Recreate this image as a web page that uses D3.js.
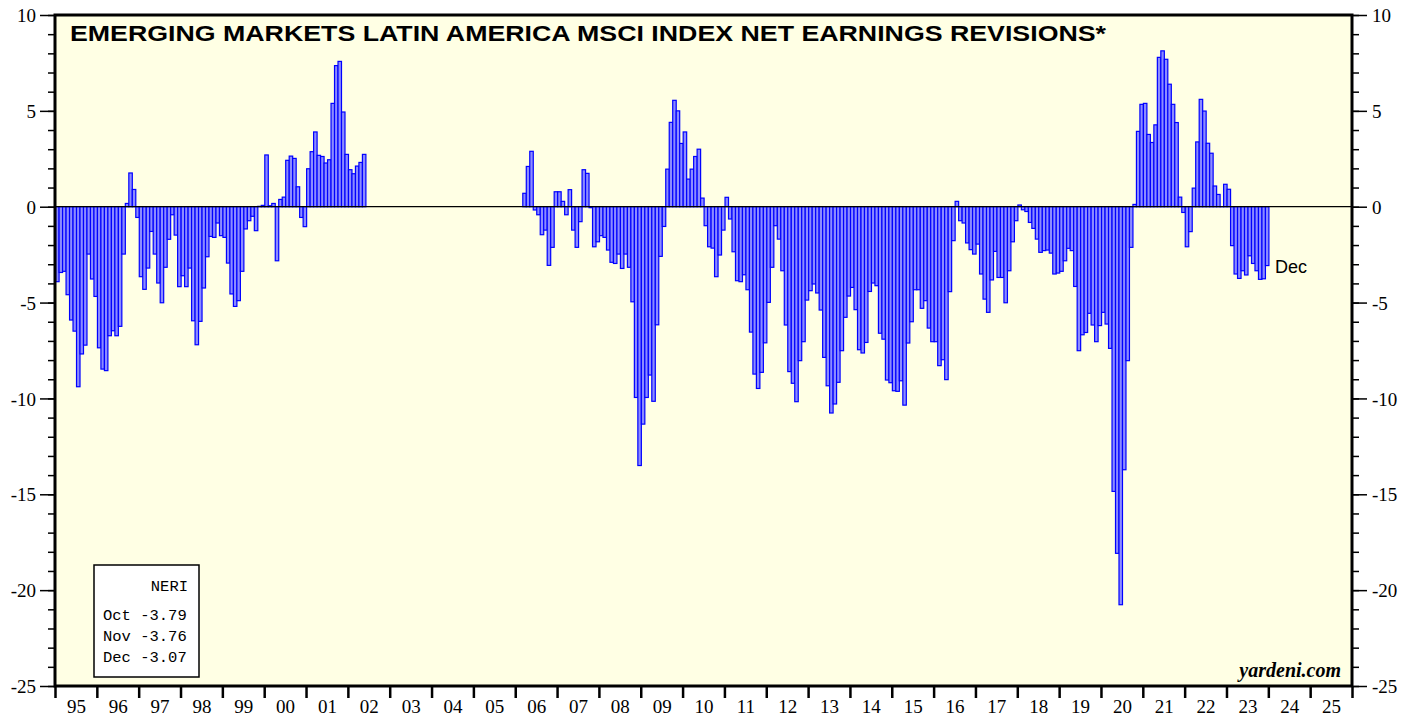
<!DOCTYPE html>
<html><head><meta charset="utf-8">
<script src="https://cdn.jsdelivr.net/npm/d3@7"></script>
<style>body{margin:0;background:#fff}</style>
</head><body><svg id="c" width="1417" height="717"></svg>
<script>
// ---------------- DATA ----------------
const yearLabels = ["95","96","97","98","99","00","01","02","03","04","05","06","07","08","09","10","11","12","13","14","15","16","17","18","19","20","21","22","23","24","25"];
const yTicks = [10,5,0,-5,-10,-15,-20,-25];

// Segment 1: monthly, Jan 1995 - May 2002
const seg1Start = [1995, 1];
const seg1Values = [
  -3.91,-3.43,-3.37,-4.59,-5.91,-6.49,-9.39,-7.68,-7.22,-2.47,-3.77,-4.68,   // 1995
  -7.36,-8.47,-8.55,-6.73,-6.47,-6.73,-6.24,-2.47,0.17,1.76,0.90,-0.56,       // 1996
  -3.65,-4.31,-3.20,-1.29,-2.47,-3.98,-5.01,-3.16,-1.70,-0.42,-1.48,-4.17,    // 1997
  -3.60,-4.17,-3.20,-5.95,-7.20,-5.98,-4.24,-2.61,-1.55,-1.60,-0.85,-1.51,    // 1998
  -1.60,-2.94,-4.55,-5.20,-4.90,-3.37,-1.16,-0.73,-0.50,-1.25,0.02,0.07,      // 1999
  2.70,0.05,0.17,-2.82,0.38,0.50,2.42,2.64,2.52,1.04,-0.56,-1.04,             // 2000
  1.98,2.87,3.90,2.68,2.62,2.28,2.45,5.39,7.36,7.58,4.94,2.73,                // 2001
  1.93,1.72,2.12,2.31,2.73                                                    // 2002
];

// Segment 2: monthly, Mar 2006 - Dec 2023
const seg2Start = [2006, 3];
const seg2Values = [
  0.70,2.10,2.89,-0.17,-0.42,-1.46,-1.22,-3.06,-2.12,0.78,                    // 2006 (Mar-Dec)
  0.78,0.28,-0.42,0.89,-1.22,-2.12,-0.78,1.93,1.74,-0.05,-2.09,-1.83,         // 2007
  -1.51,-1.60,-2.26,-2.90,-2.96,-2.47,-3.22,-2.47,-3.16,-4.96,-9.95,-13.50,   // 2008
  -11.34,-9.95,-8.78,-10.15,-6.16,-2.59,-1.03,1.96,4.40,5.55,5.00,3.30,       // 2009
  3.90,1.44,1.96,2.62,3.00,0.45,-0.99,-2.09,-2.16,-3.65,-2.52,-1.22,          // 2010
  0.49,-0.64,-2.35,-3.86,-3.91,-3.55,-4.33,-6.54,-8.73,-9.48,-8.64,-7.10,     // 2011
  -4.99,-3.16,-0.99,-1.69,-3.34,-6.17,-8.60,-9.21,-10.17,-8.03,-7.04,-4.87,   // 2012
  -4.38,-4.03,-4.50,-5.39,-7.86,-9.34,-10.76,-10.29,-9.16,-7.51,-5.77,-4.66,  // 2013
  -4.21,-5.37,-7.46,-7.63,-7.08,-4.42,-3.98,-4.12,-6.60,-6.91,-9.04,-9.18,    // 2014
  -9.60,-9.63,-9.08,-10.35,-7.11,-6.00,-4.33,-4.33,-5.30,-4.90,-6.33,-7.04,   // 2015
  -7.04,-8.29,-7.98,-9.02,-4.43,-1.77,0.28,-0.73,-0.85,-1.89,-2.24,-2.47,     // 2016
  -1.95,-3.51,-4.82,-5.51,-3.82,-2.33,-3.69,-3.69,-5.01,-3.34,-1.83,-0.73,    // 2017
  0.09,-0.16,-0.25,-0.82,-1.13,-1.69,-2.38,-2.29,-2.26,-2.42,-3.51,-3.46,     // 2018
  -3.37,-2.82,-2.17,-2.29,-4.16,-7.51,-6.68,-6.56,-5.56,-6.17,-7.04,-6.20,    // 2019
  -5.51,-6.12,-7.39,-14.85,-18.08,-20.76,-13.72,-8.03,-2.12,0.12,3.93,5.34,   // 2020
  5.39,3.77,3.35,4.27,7.79,8.13,7.69,6.39,5.34,4.39,0.50,-0.30,               // 2021
  -2.09,-1.30,0.97,3.38,5.60,4.99,3.31,2.79,1.08,0.64,0.00,1.17,              // 2022
  0.91,-2.03,-3.51,-3.74,-3.34,-3.56,-2.56,-2.96,-3.34,-3.79,-3.76,-3.07      // 2023
];

const legendTitle = "NERI";
const legendMonths = ["Oct","Nov","Dec"];
const legendValues = ["-3.79","-3.76","-3.07"];
const titleText = "EMERGING MARKETS LATIN AMERICA MSCI INDEX NET EARNINGS REVISIONS*";
const lastLabel = "Dec";
const sourceText = "yardeni.com";

// ---------------- BUILD ----------------
function build(start, vals){
  return vals.map((v,i)=>({t: start[0] + (start[1]-1+i)/12, v}));
}
const data = build(seg1Start, seg1Values).concat(build(seg2Start, seg2Values));

const svg = d3.select("#c");
const L = 55, R = 1352, T = 15, B = 686;
const x = d3.scaleLinear().domain([1995, 2026]).range([L, R]);
const y = d3.scaleLinear().domain([-25, 10]).range([B, T]);

// plot background
svg.append("rect").attr("x",L).attr("y",T).attr("width",R-L).attr("height",B-T)
  .attr("fill","#FFFFE4");

// bars
svg.append("g").selectAll("rect").data(data).join("rect")
  .attr("x", d=>x(d.t)+0.6)
  .attr("width", d=>x(d.t+1/12)-x(d.t))
  .attr("y", d=>Math.min(y(d.v), y(0)))
  .attr("height", d=>Math.max(Math.abs(y(d.v)-y(0)), 0.01))
  .attr("fill","#8C8CFF")
  .attr("stroke","#0000FF")
  .attr("stroke-width",1.2);

// zero line
svg.append("line").attr("x1",L).attr("x2",R).attr("y1",y(0)).attr("y2",y(0))
  .attr("stroke","#000").attr("stroke-width",1.2);

const serif = "'Liberation Serif','Times New Roman',serif";
const fmt = d => String(d);

// left axis
const minorT = d3.range(-25, 11, 1);
function styleAxis(g){
  g.select(".domain").remove();
  g.selectAll(".tick line").attr("stroke","#000").attr("stroke-width",1.5);
  g.selectAll("text").attr("font-family",serif).attr("font-size",19).attr("fill","#000");
}
svg.append("g").attr("transform",`translate(${L},0)`)
  .call(d3.axisLeft(y).tickValues(minorT).tickSize(7).tickFormat(""))
  .call(styleAxis);
svg.append("g").attr("transform",`translate(${L},0)`)
  .call(d3.axisLeft(y).tickValues(yTicks).tickSize(15).tickPadding(4).tickFormat(fmt))
  .call(styleAxis);
// right axis
svg.append("g").attr("transform",`translate(${R},0)`)
  .call(d3.axisRight(y).tickValues(minorT).tickSize(7).tickFormat(""))
  .call(styleAxis);
svg.append("g").attr("transform",`translate(${R},0)`)
  .call(d3.axisRight(y).tickValues(yTicks).tickSize(15).tickPadding(5).tickFormat(fmt))
  .call(styleAxis);
svg.selectAll("g.tick text").attr("dy","0.35em");

// bottom axis
const yearStarts = d3.range(1995, 2027);
svg.append("g").attr("transform",`translate(0,${B})`)
  .call(d3.axisBottom(x).tickValues(yearStarts).tickSize(12).tickFormat(""))
  .call(g=>{g.select(".domain").remove(); g.selectAll(".tick line").attr("stroke","#000").attr("stroke-width",2.5);});
svg.append("g").attr("transform",`translate(0,${B})`)
  .call(d3.axisBottom(x).tickValues(yearLabels.map((s,i)=>1995.5+i)).tickSize(0).tickPadding(14)
    .tickFormat((d,i)=>yearLabels[i]))
  .call(g=>{g.select(".domain").remove();
    g.selectAll("text").attr("font-family",serif).attr("font-size",19).attr("fill","#000");});

// frame
svg.append("rect").attr("x",L).attr("y",T).attr("width",R-L).attr("height",B-T)
  .attr("fill","none").attr("stroke","#000").attr("stroke-width",3);

// title
svg.append("text").attr("x",70).attr("y",41)
  .attr("font-family","'Liberation Sans',Arial,sans-serif").attr("font-weight","bold")
  .attr("font-size",22).attr("textLength",1036).attr("lengthAdjust","spacingAndGlyphs")
  .text(titleText);

// last label
svg.append("text").attr("x",1275).attr("y",273)
  .attr("font-family","'Liberation Sans',Arial,sans-serif").attr("font-size",18).text(lastLabel);

// source
svg.append("text").attr("x",1341).attr("y",677).attr("text-anchor","end")
  .attr("font-family",serif).attr("font-weight","bold").attr("font-style","italic")
  .attr("font-size",20).text(sourceText);

// legend
const lg = svg.append("g");
lg.append("rect").attr("x",94).attr("y",565).attr("width",105).attr("height",112)
  .attr("fill","#fff").attr("stroke","#000").attr("stroke-width",1.5);
const mono = "'Liberation Mono','Courier New',monospace";
lg.append("text").attr("x",188).attr("y",591).attr("text-anchor","end")
  .attr("font-family",mono).attr("font-size",15.5).text(legendTitle);
legendMonths.forEach((m,i)=>{
  lg.append("text").attr("x",103).attr("y",620+i*21.2)
    .attr("font-family",mono).attr("font-size",15.5).attr("xml:space","preserve")
    .text(m+" "+legendValues[i]);
});
</script>
</body></html>
